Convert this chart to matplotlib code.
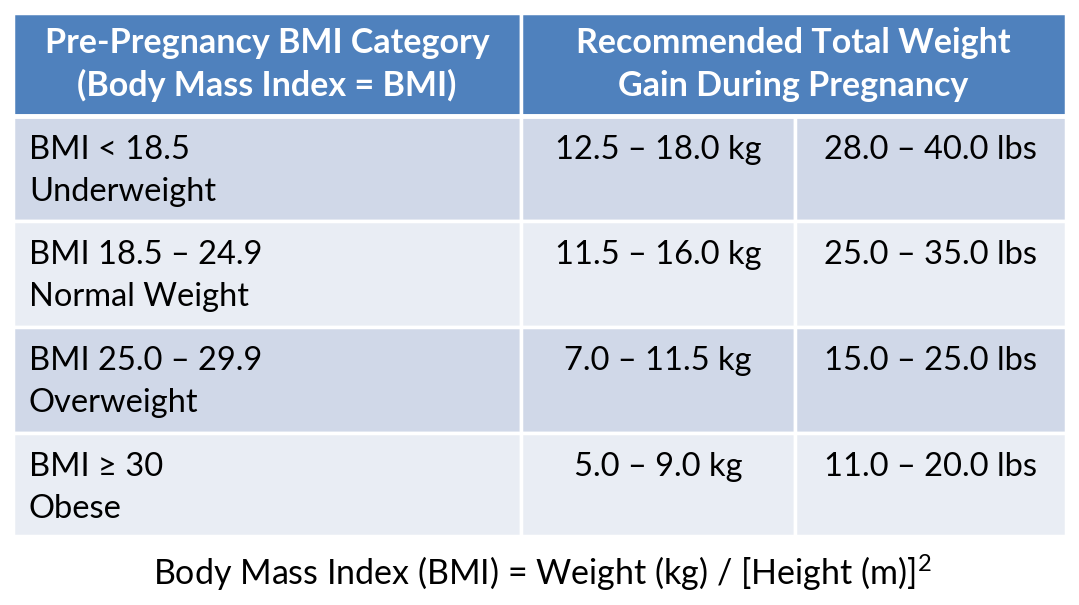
import matplotlib.pyplot as plt
from matplotlib.patches import Rectangle

# Datos de la tabla
encabezado_1 = ["Pre-Pregnancy BMI Category", "(Body Mass Index = BMI)"]
encabezado_2 = ["Recommended Total Weight", "Gain During Pregnancy"]
rango_bmi = ["BMI < 18.5", "BMI 18.5 \u2013 24.9", "BMI 25.0 \u2013 29.9", "BMI \u2265 30"]
categorias = ["Underweight", "Normal Weight", "Overweight", "Obese"]
ganancia_kg = ["12.5 \u2013 18.0 kg", "11.5 \u2013 16.0 kg",
               "7.0 \u2013 11.5 kg", "5.0 \u2013 9.0 kg"]
ganancia_lbs = ["28.0 \u2013 40.0 lbs", "25.0 \u2013 35.0 lbs",
                "15.0 \u2013 25.0 lbs", "11.0 \u2013 20.0 lbs"]
nota = r"Body Mass Index (BMI) = Weight (kg) / [Height (m)]$^{2}$"

# Geometria (en pixeles)
W, H = 1079, 605
cols = [13, 521, 795, 1066]
filas = [13, 116, 221, 327, 433, 536]
azul = "#4F81BD"
oscuro = "#D0D8E8"
claro = "#E9EDF4"
fuente = "Lato"
tam = 23.5

# superindice con la misma fuente
plt.rcParams["mathtext.fontset"] = "custom"
plt.rcParams["mathtext.rm"] = fuente
plt.rcParams["mathtext.it"] = fuente + ":italic"
plt.rcParams["mathtext.bf"] = fuente + ":bold"

fig = plt.figure(figsize=(W / 100, H / 100), dpi=100)
ax = fig.add_axes([0, 0, 1, 1])
ax.set_xlim(0, W)
ax.set_ylim(H, 0)
ax.axis("off")

# Encabezado
ax.add_patch(Rectangle((cols[0], filas[0]), cols[1] - cols[0], filas[1] - filas[0],
                       facecolor=azul, edgecolor="white", lw=2.5))
ax.add_patch(Rectangle((cols[1], filas[0]), cols[3] - cols[1], filas[1] - filas[0],
                       facecolor=azul, edgecolor="white", lw=2.5))
for k in range(2):
    yb = filas[0] + 40 + 43 * k
    ax.text((cols[0] + cols[1]) / 2, yb, encabezado_1[k], ha="center", va="baseline",
            color="white", fontsize=24.5, fontweight="bold", family=fuente)
    ax.text((cols[1] + cols[3]) / 2, yb, encabezado_2[k], ha="center", va="baseline",
            color="white", fontsize=24.5, fontweight="bold", family=fuente)

# Filas
for i in range(len(categorias)):
    y0, y1 = filas[i + 1], filas[i + 2]
    color = oscuro if i % 2 == 0 else claro
    for j in range(3):
        ax.add_patch(Rectangle((cols[j], y0), cols[j + 1] - cols[j], y1 - y0,
                               facecolor=color, edgecolor="white", lw=2.5))
    yb = y0 + 43
    ax.text(cols[0] + 16, yb, rango_bmi[i], ha="left", va="baseline",
            fontsize=tam, family=fuente, color="black")
    ax.text(cols[0] + 16, yb + 42, categorias[i], ha="left", va="baseline",
            fontsize=tam, family=fuente, color="black")
    ax.text((cols[1] + cols[2]) / 2, yb, ganancia_kg[i], ha="center", va="baseline",
            fontsize=tam, family=fuente, color="black")
    ax.text((cols[2] + cols[3]) / 2, yb, ganancia_lbs[i], ha="center", va="baseline",
            fontsize=tam, family=fuente, color="black")

# separacion blanca bajo el encabezado
ax.axhline(filas[1], color="white", lw=3.5)

# Nota al pie
ax.text(W / 2 + 3, 585, nota, ha="center", va="baseline", fontsize=tam + 1,
        family=fuente, color="black")

fig.savefig("out.png", dpi=100)
